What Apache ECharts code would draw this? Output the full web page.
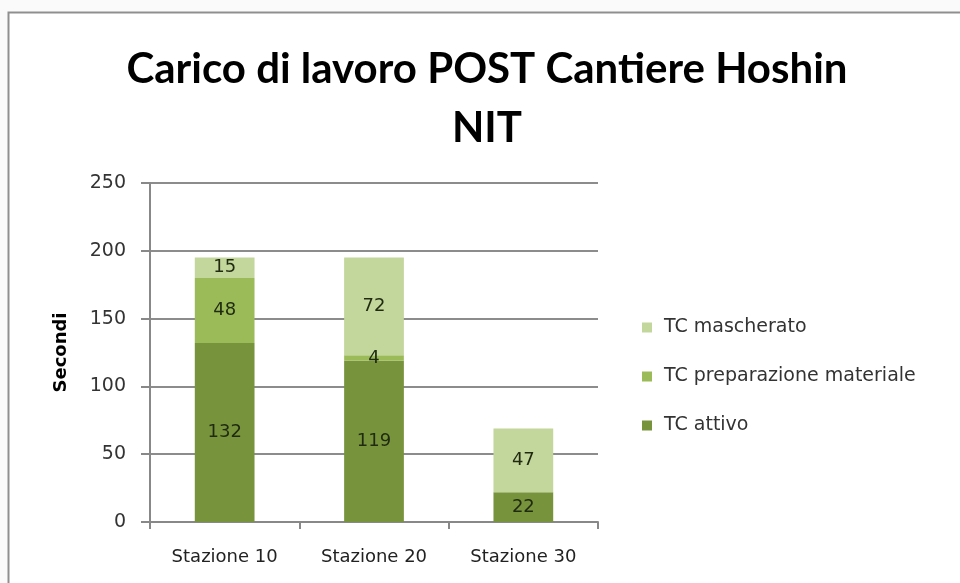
<!DOCTYPE html>
<html>
<head>
<meta charset="utf-8">
<script src="https://cdn.jsdelivr.net/npm/echarts@6/dist/echarts.min.js"></script>
<style>
  html, body { margin: 0; padding: 0; background: #fafafa; }
  #chart { width: 960px; height: 583px; }
</style>
</head>
<body>
<div id="chart"></div>
<script>
// Workload per station (seconds), stacked by component
const stazioni = ['Stazione 10', 'Stazione 20', 'Stazione 30'];
const tcAttivo = [132, 119, 22];
const tcPreparazione = [48, 4, 0];
const tcMascherato = [15, 72, 47];
const yTicks = [0, 50, 100, 150, 200, 250];

const colAttivo = '#77933C';
const colPrep = '#9BBB59';
const colMasch = '#C3D69B';

const labelStyle = {
  show: true,
  position: 'inside',
  color: '#1f2a10',
  fontFamily: 'DejaVu Sans',
  fontSize: 18,
  formatter: p => (p.value ? String(p.value) : '')
};

function barSeries(name, data, color) {
  return {
    name: name,
    type: 'bar',
    stack: 'tot',
    barWidth: '40%',
    data: data,
    itemStyle: { color: color },
    label: labelStyle,
    emphasis: { disabled: true }
  };
}

const chart = echarts.init(document.getElementById('chart'), null, { renderer: 'canvas' });
chart.setOption({
  animation: false,
  backgroundColor: '#fafafa',
  graphic: [{
    type: 'rect',
    shape: { x: 8.5, y: 12.5, width: 980, height: 600 },
    style: { fill: '#ffffff', stroke: '#8f8f8f', lineWidth: 2 },
    z: -10
  }],
  title: {
    text: 'Carico di lavoro POST Cantiere Hoshin\nNIT',
    left: 482,
    textAlign: 'center',
    top: 35,
    textStyle: {
      fontFamily: 'Lato',
      fontWeight: 'bold',
      fontSize: 42,
      lineHeight: 59,
      color: '#000000'
    }
  },
  legend: {
    orient: 'vertical',
    left: 637,
    top: 312,
    itemGap: 28,
    itemWidth: 10,
    itemHeight: 10,
    icon: 'rect',
    data: ['TC mascherato', 'TC preparazione materiale', 'TC attivo'],
    textStyle: { fontFamily: 'DejaVu Sans', fontSize: 19, lineHeight: 21, color: '#333333', padding: [0, 0, 0, 7] }
  },
  grid: { left: 150, top: 183, right: 362, bottom: 61 },
  xAxis: {
    type: 'category',
    data: stazioni,
    axisLine: { lineStyle: { color: '#888888', width: 2 } },
    axisTick: { show: true, length: 7, lineStyle: { color: '#888888', width: 2 } },
    axisLabel: { fontFamily: 'DejaVu Sans', fontSize: 18, color: '#222222', margin: 26 }
  },
  yAxis: {
    type: 'value',
    min: yTicks[0],
    max: yTicks[yTicks.length - 1],
    interval: 50,
    name: 'Secondi',
    nameLocation: 'middle',
    nameGap: 80,
    nameTextStyle: { fontFamily: 'DejaVu Sans', fontWeight: 'bold', fontSize: 18, color: '#000000' },
    axisLine: { show: true, lineStyle: { color: '#888888', width: 2 } },
    axisTick: { show: true, inside: false, length: 9, lineStyle: { color: '#888888', width: 2 } },
    axisLabel: { fontFamily: 'DejaVu Sans', fontSize: 19, color: '#333333', margin: 24 },
    splitLine: { lineStyle: { color: '#8c8c8c', width: 2 } }
  },
  series: [
    barSeries('TC attivo', tcAttivo, colAttivo),
    barSeries('TC preparazione materiale', tcPreparazione, colPrep),
    barSeries('TC mascherato', tcMascherato, colMasch)
  ]
});
</script>
</body>
</html>
